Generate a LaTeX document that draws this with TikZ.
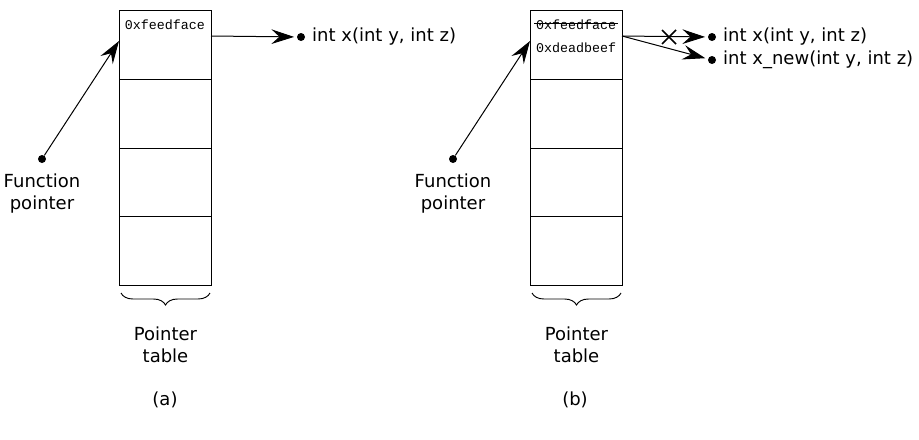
\documentclass[tikz,border=0pt]{standalone}
\usepackage{fontspec}
\setmainfont{DejaVu Sans}
\setmonofont{Liberation Mono}
\usetikzlibrary{positioning,arrows.meta,decorations.pathreplacing}

\tikzset{
  cell/.style={draw, line width=0.8pt, minimum width=69pt, minimum height=51.5625pt, inner sep=0pt, anchor=north west},
  hex/.style={font=\ttfamily\fontsize{10}{12}\selectfont, inner sep=0pt},
  lbl/.style={font=\fontsize{13.5}{16.5}\selectfont, inner sep=0pt, align=center},
  dot/.style={circle, fill, inner sep=0pt, minimum size=6pt},
  ptr/.style={line width=0.75pt, -{Stealth[length=17pt, width=11pt, inset=6pt]}, shorten >=2pt},
}

\begin{document}
\begin{tikzpicture}[x=0.75pt, y=-0.75pt]
        \useasboundingbox (0,0) rectangle (919,439);

        % NODES
        % -----------------

        % Pointer tables
        \foreach \i in {1,...,4} {
          \node[cell] (a\i) at (119, {10+68.75*(\i-1)}) {};
          \node[cell] (b\i) at (530, {10+68.75*(\i-1)}) {};
        }
        \node[hex] (feedA) at (165,25) {0xfeedface};
        \node[hex] (feedB) at (576,25) {0xfeedface};
        \node[hex] (deadB) at (576,48) {0xdeadbeef};

        % Function pointers
        \node[dot] (fpA) at (42,159) {};
        \node[lbl, below=8pt of fpA] (fpA_text) {Function\\pointer};
        \node[dot] (fpB) at (453,159) {};
        \node[lbl, below=8pt of fpB] (fpB_text) {Function\\pointer};

        % Targets
        \node[dot] (xA) at (301,37) {};
        \node[lbl, right=5pt of xA] (xA_text) {int x(int y, int z)};
        \node[dot] (xB) at (712,37) {};
        \node[lbl, right=5pt of xB] (xB_text) {int x(int y, int z)};
        \node[dot] (xnewB) at (712,60) {};
        \node[lbl, right=5pt of xnewB] (xnewB_text) {int x\_new(int y, int z)};

        \coordinate (outA) at (211,36);
        \coordinate (outB) at (622,36);
        \coordinate (inA) at (119,41);
        \coordinate (inB) at (530,41);
        \coordinate (cross) at (669,37);

        % Braces
        \draw[line width=0.7pt, decorate, decoration={brace, mirror, amplitude=9pt}]
          (121,293) -- (210,293) coordinate[midway] (braceA);
        \draw[line width=0.7pt, decorate, decoration={brace, mirror, amplitude=9pt}]
          (532,293) -- (621,293) coordinate[midway] (braceB);
        \node[lbl, below=25pt of braceA] (tabA_text) {Pointer\\table};
        \node[lbl, below=25pt of braceB] (tabB_text) {Pointer\\table};

        % Captions
        \node[lbl] (capA) at (165,400) {(a)};
        \node[lbl] (capB) at (575,400) {(b)};

        % EDGES
        % -----------------
        \draw[ptr, shorten >=0pt] (fpA) -- (inA);
        \draw[ptr, shorten >=0pt] (fpB) -- (inB);
        \draw[ptr] (outA) -- (xA);
        \draw[ptr] (outB) -- (xB);
        \draw[ptr] (outB) -- (xnewB);

        % old entry is struck out
        \draw[line width=0.6pt] ([xshift=-1pt, yshift=1pt]feedB.west) -- ([xshift=1pt, yshift=1pt]feedB.east);
        \draw[line width=1.3pt] ([shift={(-7,-7)}]cross) -- ([shift={(7,7)}]cross)
                                ([shift={(-7,7)}]cross) -- ([shift={(7,-7)}]cross);

\end{tikzpicture}
\end{document}
